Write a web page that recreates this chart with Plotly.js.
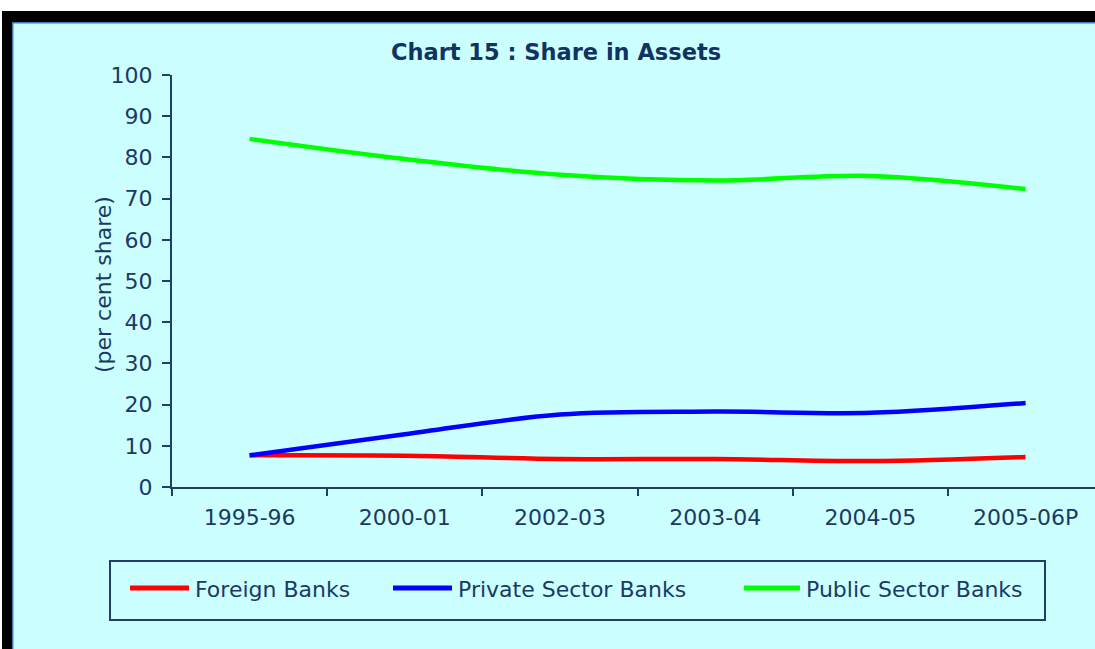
<!DOCTYPE html>
<html>
<head>
<meta charset="utf-8">
<script src="https://cdn.plot.ly/plotly-3.0.1.min.js"></script>
<style>
  html, body { margin: 0; padding: 0; background: #ccffff; }
  #chart { width: 1095px; height: 649px; }
</style>
</head>
<body>
<div id="chart"></div>
<script>
// ---- Data ----
const categories = ['1995-96', '2000-01', '2002-03', '2003-04', '2004-05', '2005-06P'];
const foreignBanks = [7.7, 7.6, 6.8, 6.8, 6.3, 7.3];
const privateSectorBanks = [7.7, 12.8, 17.6, 18.3, 18.0, 20.4];
const publicSectorBanks = [84.5, 79.6, 75.8, 74.4, 75.5, 72.3];
const seriesNames = ['Foreign Banks', 'Private Sector Banks', 'Public Sector Banks'];
const yTickValues = [0, 10, 20, 30, 40, 50, 60, 70, 80, 90, 100];
const chartTitle = 'Chart 15 : Share in Assets';
const yTitle = '(per cent share)';

// ---- Styles / layout constants ----
const W = 1095, H = 649;
const M = { l: 172, r: 0, t: 75, b: 162 };
const seriesColors = ['#ff0000', '#0000ff', '#00ff00'];
const textColor = '#1b3a63';
const axisColor = '#1f3f66';
const bg = '#ccffff';
const fontFamily = 'DejaVu Sans, Verdana, sans-serif';

const plotW = W - M.l - M.r, plotH = H - M.t - M.b;
const px2x = p => (p - M.l) / plotW;
const py2y = p => (H - M.b - p) / plotH;

const seriesValues = [foreignBanks, privateSectorBanks, publicSectorBanks];
const traces = seriesValues.map((vals, i) => ({
  type: 'scatter',
  mode: 'lines',
  x: categories,
  y: vals,
  name: seriesNames[i],
  line: { color: seriesColors[i], width: 4.5, shape: 'spline', smoothing: 1 },
  showlegend: false,
  hoverinfo: 'x+y+name'
}));

// Legend drawn manually to match the reference box
const legendBox = { x0: 110, x1: 1045, y0: 561, y1: 620 };
const legendItems = [
  { lx0: 130, lx1: 189, tx: 193 },
  { lx0: 393, lx1: 452, tx: 456 },
  { lx0: 744, lx1: 800, tx: 804 }
];
const legendY = 588;

const shapes = [
  // outer frame
  { type: 'rect', xref: 'paper', yref: 'paper', x0: px2x(0), x1: px2x(W), y0: py2y(0), y1: py2y(11), fillcolor: '#ffffff', line: { width: 0 } },
  { type: 'rect', xref: 'paper', yref: 'paper', x0: px2x(0), x1: px2x(2), y0: py2y(0), y1: py2y(H), fillcolor: '#ffffff', line: { width: 0 } },
  { type: 'rect', xref: 'paper', yref: 'paper', x0: px2x(2), x1: px2x(W), y0: py2y(11), y1: py2y(22), fillcolor: '#000000', line: { width: 0 } },
  { type: 'rect', xref: 'paper', yref: 'paper', x0: px2x(2), x1: px2x(12), y0: py2y(11), y1: py2y(H), fillcolor: '#000000', line: { width: 0 } },
  { type: 'line', xref: 'paper', yref: 'paper', x0: px2x(12), x1: px2x(W), y0: py2y(22.7), y1: py2y(22.7), line: { color: '#3f78b0', width: 1.5 } },
  { type: 'line', xref: 'paper', yref: 'paper', x0: px2x(12.7), x1: px2x(12.7), y0: py2y(22), y1: py2y(H), line: { color: '#3f78b0', width: 1.5 } },
  // legend box
  { type: 'rect', xref: 'paper', yref: 'paper', x0: px2x(legendBox.x0), x1: px2x(legendBox.x1), y0: py2y(legendBox.y0), y1: py2y(legendBox.y1), fillcolor: 'rgba(0,0,0,0)', line: { color: axisColor, width: 2 } }
];
const annotations = [
  { xref: 'paper', yref: 'paper', x: px2x(103), y: py2y(285), text: yTitle, textangle: -90, showarrow: false, xanchor: 'center', yanchor: 'middle', font: { family: fontFamily, size: 22, color: textColor } }
];
legendItems.forEach((it, i) => {
  shapes.push({ type: 'line', xref: 'paper', yref: 'paper', x0: px2x(it.lx0), x1: px2x(it.lx1), y0: py2y(legendY), y1: py2y(legendY), line: { color: seriesColors[i], width: 5 } });
  annotations.push({ xref: 'paper', yref: 'paper', x: px2x(it.tx), y: py2y(legendY + 1), text: seriesNames[i], showarrow: false, xanchor: 'left', yanchor: 'middle', font: { family: fontFamily, size: 22, color: textColor } });
});

const layout = {
  width: W, height: H,
  margin: M,
  paper_bgcolor: bg,
  plot_bgcolor: bg,
  showlegend: false,
  font: { family: fontFamily, size: 22, color: textColor },
  title: {
    text: '<b>' + chartTitle + '</b>',
    x: 556 / W, xref: 'container', xanchor: 'center',
    y: 1 - 52 / H, yref: 'container', yanchor: 'middle',
    font: { family: fontFamily, size: 22.5, color: '#10335f' }
  },
  xaxis: {
    type: 'category',
    range: [-0.5, -0.5 + plotW / 155.2],
    tickson: 'boundaries',
    ticks: 'outside', ticklen: 7, tickwidth: 2, tickcolor: axisColor,
    ticklabelstandoff: 10,
    showline: true, linecolor: axisColor, linewidth: 2,
    showgrid: false, zeroline: false,
    tickfont: { family: fontFamily, size: 22, color: textColor },
    automargin: false, fixedrange: true
  },
  yaxis: {
    range: [0, 100],
    tickvals: yTickValues,
    ticks: 'outside', ticklen: 8, tickwidth: 2, tickcolor: axisColor,
    ticklabelstandoff: 5,
    showline: true, linecolor: axisColor, linewidth: 2,
    showgrid: false, zeroline: false,
    tickfont: { family: fontFamily, size: 22, color: textColor },
    automargin: false, fixedrange: true
  },
  shapes: shapes,
  annotations: annotations
};

Plotly.newPlot('chart', traces, layout, { displayModeBar: false, staticPlot: true });
</script>
</body>
</html>
